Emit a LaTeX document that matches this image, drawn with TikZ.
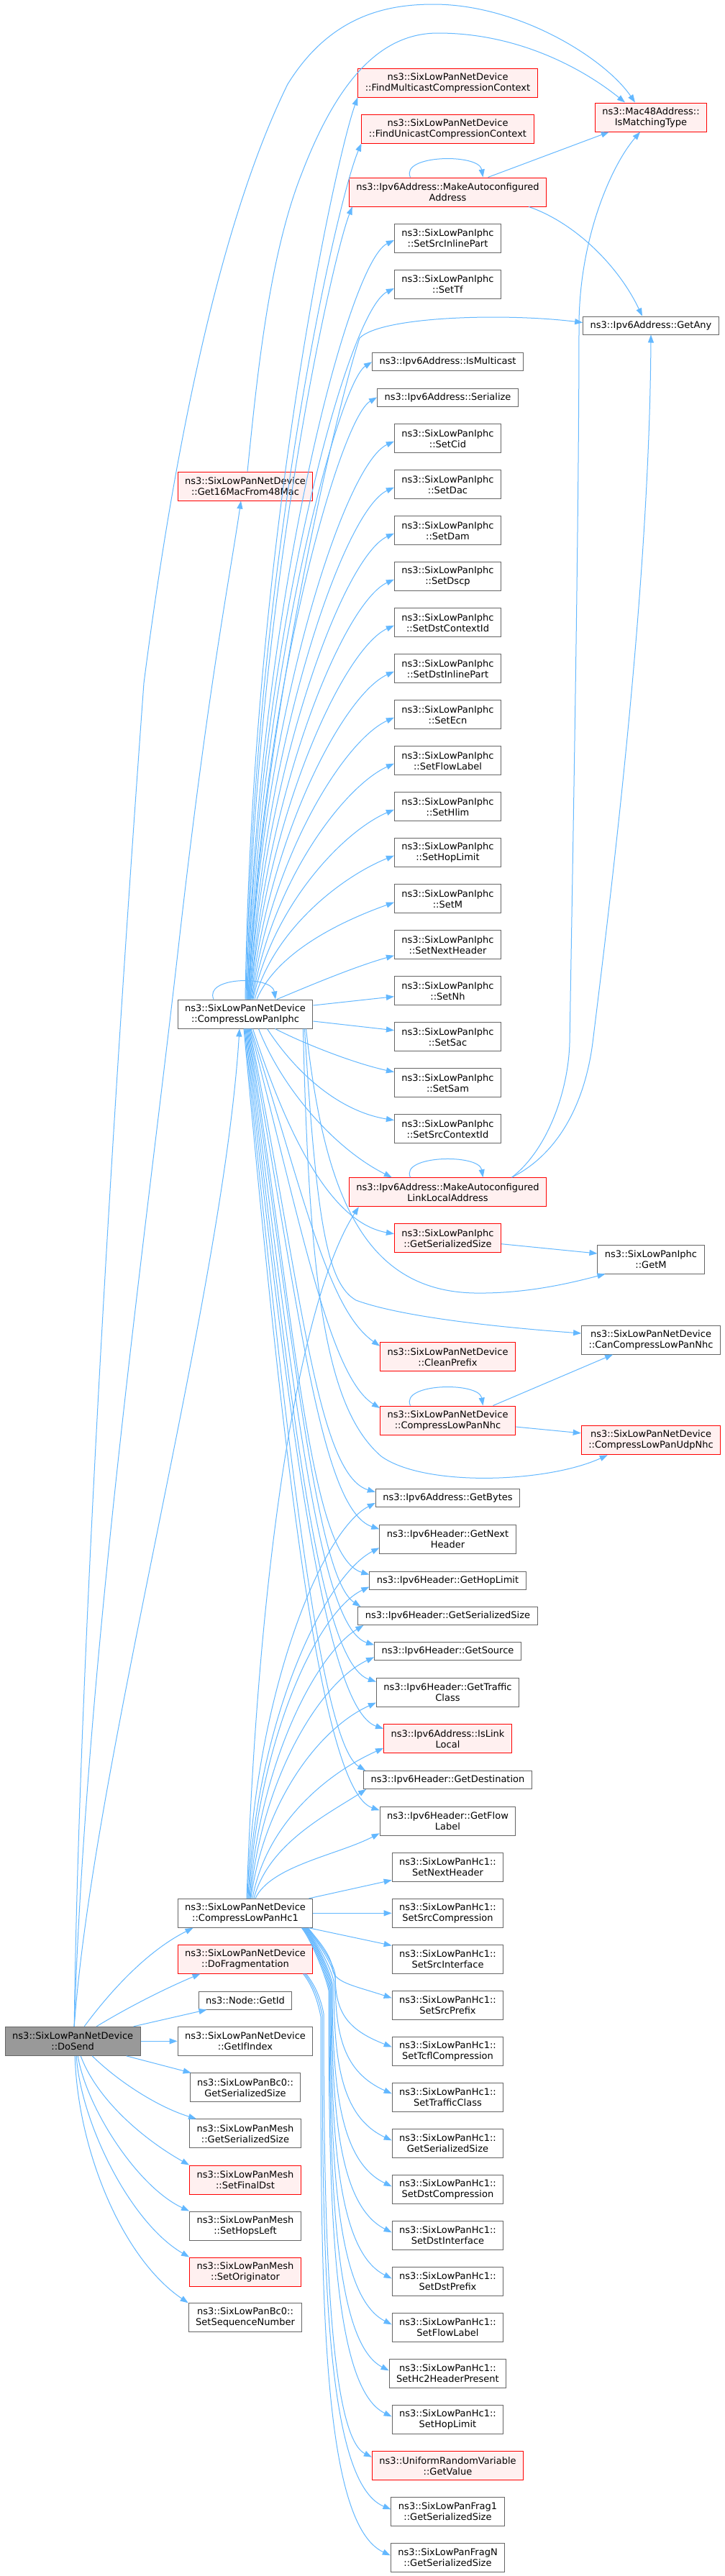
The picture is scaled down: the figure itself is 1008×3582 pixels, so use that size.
\documentclass[tikz,border=0pt]{standalone}
\usepackage{fontspec}
\setmainfont{DejaVu Sans}
\usetikzlibrary{arrows.meta,calc}
\definecolor{edgeblue}{HTML}{63B8FF}
\definecolor{nodegray}{HTML}{666666}
\definecolor{redfill}{HTML}{FFF0F0}
\definecolor{redline}{HTML}{FF0000}
\definecolor{rootfill}{HTML}{999999}
\newcommand\dvf{\fontsize{13}{15}\selectfont}
\newcommand\upfan[6]{\draw[conn] let \p1=(#1),\p2=(#2) in (\p1) .. controls ({#3},{\y1+#4*(\y2-\y1)}) and ({#5},{\y2-#6}) .. (\p2);}
\newcommand\downfan[6]{\draw[conn] let \p1=(#1),\p2=(#2) in (\p1) .. controls ({#3},{\y1+#4*(\y2-\y1)}) and ({#5},{\y2+#6}) .. (\p2);}
\newcommand\bundle[6]{\draw[conn] let \p1=(#1),\p2=(#2) in (\p1) .. controls ({\x1+14pt},{\y1-18pt}) and ({#3-4pt},{-#4pt+20pt}) .. ({#3},{-#4pt}) .. controls ({#3},{0.5*(-#4pt+\y2)}) and ({#5},{\y2+#6}) .. (\p2);}
\tikzset{
  nbox/.style={draw=nodegray, fill=white, line width=1pt, inner xsep=10pt, inner ysep=2pt, minimum height=40pt, align=center, font=\dvf},
  nbox1/.style={nbox, minimum height=25pt},
  trunc/.style={draw=redline, fill=redfill},
  rootnode/.style={fill=rootfill},
  conn/.style={draw=edgeblue, line width=1pt, -{Triangle[length=11pt,width=8pt]}}
}
\begin{document}
\begin{tikzpicture}[x=1pt,y=-1pt]
\fill[white] (0,0) rectangle (1008,3582);
\useasboundingbox (0,0) rectangle (1008,3582);

% ---------- left column ----------
\node[nbox,rootnode] (dosend) at (101.2,2838.3) {ns3::SixLowPanNetDevice\\::DoSend};
\node[nbox,trunc] (g16) at (341,676) {ns3::SixLowPanNetDevice\\::Get16MacFrom48Mac};
\node[nbox] (iphc) at (341,1410) {ns3::SixLowPanNetDevice\\::CompressLowPanIphc};
\node[nbox] (hc1) at (341,2660.3) {ns3::SixLowPanNetDevice\\::CompressLowPanHc1};
\node[nbox,trunc] (dofrag) at (341,2724) {ns3::SixLowPanNetDevice\\::DoFragmentation};
\node[nbox1] (getid) at (341,2781.5) {ns3::Node::GetId};
\node[nbox] (ifidx) at (341,2838.3) {ns3::SixLowPanNetDevice\\::GetIfIndex};
\node[nbox] (bc0gss) at (341,2902.8) {ns3::SixLowPanBc0::\\GetSerializedSize};
\node[nbox] (meshgss) at (341,2966.8) {ns3::SixLowPanMesh\\::GetSerializedSize};
\node[nbox,trunc] (finaldst) at (341,3031) {ns3::SixLowPanMesh\\::SetFinalDst};
\node[nbox] (hopsleft) at (341,3095) {ns3::SixLowPanMesh\\::SetHopsLeft};
\node[nbox,trunc] (orig) at (341,3159) {ns3::SixLowPanMesh\\::SetOriginator};
\node[nbox] (seqnum) at (341,3222.7) {ns3::SixLowPanBc0::\\SetSequenceNumber};

% ---------- middle column ----------
\node[nbox,trunc] (findmc) at (622.5,115) {ns3::SixLowPanNetDevice\\::FindMulticastCompressionContext};
\node[nbox,trunc] (finduc) at (622.5,179) {ns3::SixLowPanNetDevice\\::FindUnicastCompressionContext};
\node[nbox,trunc] (mkaddr) at (622.5,267) {ns3::Ipv6Address::MakeAutoconfigured\\Address};
\node[nbox] (srcinl) at (622.5,331) {ns3::SixLowPanIphc\\::SetSrcInlinePart};
\node[nbox] (settf) at (622.5,395) {ns3::SixLowPanIphc\\::SetTf};
\node[nbox1] (ismc) at (622.5,503.3) {ns3::Ipv6Address::IsMulticast};
\node[nbox1] (serial) at (622.5,552.5) {ns3::Ipv6Address::Serialize};
\node[nbox] (setcid) at (622.5,609.7) {ns3::SixLowPanIphc\\::SetCid};
\node[nbox] (setdac) at (622.5,673.7) {ns3::SixLowPanIphc\\::SetDac};
\node[nbox] (setdam) at (622.5,737.7) {ns3::SixLowPanIphc\\::SetDam};
\node[nbox] (setdscp) at (622.5,801.7) {ns3::SixLowPanIphc\\::SetDscp};
\node[nbox] (setdstctx) at (622.5,865.7) {ns3::SixLowPanIphc\\::SetDstContextId};
\node[nbox] (setdstinl) at (622.5,929.7) {ns3::SixLowPanIphc\\::SetDstInlinePart};
\node[nbox] (setecn) at (622.5,993.7) {ns3::SixLowPanIphc\\::SetEcn};
\node[nbox] (setfl) at (622.5,1057.7) {ns3::SixLowPanIphc\\::SetFlowLabel};
\node[nbox] (sethlim) at (622.5,1121.7) {ns3::SixLowPanIphc\\::SetHlim};
\node[nbox] (sethop) at (622.5,1185.7) {ns3::SixLowPanIphc\\::SetHopLimit};
\node[nbox] (setm) at (622.5,1249.7) {ns3::SixLowPanIphc\\::SetM};
\node[nbox] (setnhdr) at (622.5,1313.7) {ns3::SixLowPanIphc\\::SetNextHeader};
\node[nbox] (setnh) at (622.5,1377.7) {ns3::SixLowPanIphc\\::SetNh};
\node[nbox] (setsac) at (622.5,1441.7) {ns3::SixLowPanIphc\\::SetSac};
\node[nbox] (setsam) at (622.5,1505.7) {ns3::SixLowPanIphc\\::SetSam};
\node[nbox] (setsrcctx) at (622.5,1569.7) {ns3::SixLowPanIphc\\::SetSrcContextId};
\node[nbox,trunc] (linkloc) at (622.5,1657.7) {ns3::Ipv6Address::MakeAutoconfigured\\LinkLocalAddress};
\node[nbox,trunc] (iphcgss) at (622.5,1721.7) {ns3::SixLowPanIphc\\::GetSerializedSize};
\node[nbox,trunc] (clean) at (622.5,1886.7) {ns3::SixLowPanNetDevice\\::CleanPrefix};
\node[nbox,trunc] (nhc) at (622.5,1975) {ns3::SixLowPanNetDevice\\::CompressLowPanNhc};
\node[nbox1] (getbytes) at (622.5,2082.8) {ns3::Ipv6Address::GetBytes};
\node[nbox] (getnext) at (622.5,2140.3) {ns3::Ipv6Header::GetNext\\Header};
\node[nbox1] (gethop) at (622.5,2197.5) {ns3::Ipv6Header::GetHopLimit};
\node[nbox1] (hdrgss) at (622.5,2247) {ns3::Ipv6Header::GetSerializedSize};
\node[nbox1] (getsrc) at (622.5,2296.3) {ns3::Ipv6Header::GetSource};
\node[nbox] (gettc) at (622.5,2353.5) {ns3::Ipv6Header::GetTraffic\\Class};
\node[nbox,trunc] (islinkl) at (622.5,2417.7) {ns3::Ipv6Address::IsLink\\Local};
\node[nbox1] (getdst) at (622.5,2475) {ns3::Ipv6Header::GetDestination};
\node[nbox] (getfl) at (622.5,2532.2) {ns3::Ipv6Header::GetFlow\\Label};
\node[nbox] (hc1snh) at (622.5,2596.3) {ns3::SixLowPanHc1::\\SetNextHeader};
\node[nbox] (hc1ssc) at (622.5,2660.3) {ns3::SixLowPanHc1::\\SetSrcCompression};
\node[nbox] (hc1ssi) at (622.5,2724.3) {ns3::SixLowPanHc1::\\SetSrcInterface};
\node[nbox] (hc1ssp) at (622.5,2788.3) {ns3::SixLowPanHc1::\\SetSrcPrefix};
\node[nbox] (hc1tcfl) at (622.5,2852.3) {ns3::SixLowPanHc1::\\SetTcflCompression};
\node[nbox] (hc1stc) at (622.5,2916.3) {ns3::SixLowPanHc1::\\SetTrafficClass};
\node[nbox] (hc1gss) at (622.5,2980.3) {ns3::SixLowPanHc1::\\GetSerializedSize};
\node[nbox] (hc1sdc) at (622.5,3044.3) {ns3::SixLowPanHc1::\\SetDstCompression};
\node[nbox] (hc1sdi) at (622.5,3108.3) {ns3::SixLowPanHc1::\\SetDstInterface};
\node[nbox] (hc1sdp) at (622.5,3172.3) {ns3::SixLowPanHc1::\\SetDstPrefix};
\node[nbox] (hc1sfl) at (622.5,3236.3) {ns3::SixLowPanHc1::\\SetFlowLabel};
\node[nbox] (hc1hc2) at (622.5,3300.3) {ns3::SixLowPanHc1::\\SetHc2HeaderPresent};
\node[nbox] (hc1shl) at (622.5,3364.3) {ns3::SixLowPanHc1::\\SetHopLimit};
\node[nbox,trunc] (getval) at (622.5,3428.7) {ns3::UniformRandomVariable\\::GetValue};
\node[nbox] (frag1) at (622.5,3492.3) {ns3::SixLowPanFrag1\\::GetSerializedSize};
\node[nbox] (fragn) at (622.5,3556.3) {ns3::SixLowPanFragN\\::GetSerializedSize};

% ---------- right column ----------
\node[nbox,trunc] (mac48) at (905,163) {ns3::Mac48Address::\\IsMatchingType};
\node[nbox1] (getany) at (905,452.5) {ns3::Ipv6Address::GetAny};
\node[nbox] (getm) at (905,1751) {ns3::SixLowPanIphc\\::GetM};
\node[nbox] (cancomp) at (905,1863) {ns3::SixLowPanNetDevice\\::CanCompressLowPanNhc};
\node[nbox,trunc] (udpnhc) at (905,2002.8) {ns3::SixLowPanNetDevice\\::CompressLowPanUdpNhc};

% ---------- edges from DoSend ----------
\draw[conn] ($(dosend.north)+(2,0)$) .. controls (110,2300) and (160,1500) .. (200,950) .. controls (245,600) and (310,300) .. (400,117) .. controls (460,20) and (540,6) .. (603,6) .. controls (720,6) and (840,80) .. ($(mac48.north)+(-22,0)$);
\draw[conn] ($(dosend.north)+(2,0)$) .. controls (120,2300) and (205,1700) .. (250,1300) .. controls (290,950) and (320,800) .. ($(g16.south)+(-6,0)$);
\draw[conn] ($(dosend.north)+(2,0)$) .. controls (130,2450) and (310,1800) .. ($(iphc.south)+(-8,0)$);
\draw[conn] ($(dosend.north)+(16,0)$) .. controls (160,2760) and (210,2710) .. ($(hc1.south west)+(22,0)$);
\draw[conn] ($(dosend.north)+(33,0)$) .. controls (180,2790) and (230,2765) .. ($(dofrag.south west)+(32,0)$);
\draw[conn] ($(dosend.north east)+(-10,0)$) -- ($(getid.south west)+(12,0)$);
\draw[conn] (dosend.east) -- (ifidx.west);
\draw[conn] ($(dosend.south east)+(-20,0)$) -- ($(bc0gss.north west)+(2,0)$);
\draw[conn] ($(dosend.south)+(27,0)$) .. controls (165,2895) and (220,2930) .. ($(meshgss.north west)+(10,0)$);
\draw[conn] ($(dosend.south)+(11,0)$) .. controls (135,2920) and (200,2975) .. (finaldst.north west);
\draw[conn] ($(dosend.south)+(7,0)$) .. controls (120,2930) and (190,3040) .. (hopsleft.north west);
\draw[conn] ($(dosend.south)+(5,0)$) .. controls (112,2950) and (180,3090) .. (orig.north west);
\draw[conn] ($(dosend.south)+(3,0)$) .. controls (108,2990) and (170,3140) .. (seqnum.north west);

% ---------- Get16MacFrom48Mac ----------
\draw[conn] ($(g16.north)+(3,0)$) .. controls (356,540) and (372,360) .. (420,240) .. controls (470,110) and (530,46) .. (609,46) .. controls (720,46) and (810,95) .. ($(mac48.north)+(-36,0)$);

% ---------- self loops ----------
\draw[conn] ($(iphc.north)+(-44,0)$) .. controls (283,1358) and (378,1356) .. ($(iphc.north)+(42,0)$);
\draw[conn] ($(mkaddr.north)+(-52,0)$) .. controls (556,215) and (666,213) .. ($(mkaddr.north)+(49,0)$);
\draw[conn] ($(linkloc.north)+(-52,0)$) .. controls (556,1606) and (666,1604) .. ($(linkloc.north)+(49,0)$);
\draw[conn] ($(nhc.north)+(-52,0)$) .. controls (556,1923) and (666,1921) .. ($(nhc.north)+(49,0)$);

% ---------- callee to callee ----------
\draw[conn] ($(mkaddr.north)+(56,0)$) -- ($(mac48.south west)+(20,0)$);
\draw[conn] ($(mkaddr.south east)+(-25,0)$) .. controls (800,310) and (860,370) .. ($(getany.north)+(-12,0)$);
\draw[conn] ($(linkloc.north)+(89,0)$) .. controls (760,1600) and (790,1520) .. (792,1450) .. controls (798,1100) and (805,700) .. (805,450) .. controls (806,330) and (850,230) .. ($(mac48.south)+(-15,0)$);
\draw[conn] ($(linkloc.north)+(89,0)$) .. controls (785,1600) and (815,1520) .. (824,1450) .. controls (855,1200) and (903,800) .. (getany.south);
\draw[conn] ($(iphcgss.east)+(0,8)$) -- ($(getm.west)+(0,-8)$);
\draw[conn] ($(nhc.north)+(63,0)$) -- ($(cancomp.south west)+(44,0)$);
\draw[conn] ($(nhc.east)+(0,9)$) -- ($(udpnhc.west)+(0,-10)$);

% ---------- CompressLowPanIphc fan ----------
\upfan{iphc.north}{findmc.south west}{350pt}{0.5}{465pt}{90pt}
\upfan{$(iphc.north)+(1,0)$}{finduc.south west}{352pt}{0.5}{468pt}{80pt}
\upfan{$(iphc.north)+(2,0)$}{$(mkaddr.south west)+(5,0)$}{354pt}{0.5}{462pt}{70pt}
\upfan{$(iphc.north)+(3,0)$}{$(srcinl.west)+(0,3)$}{356pt}{0.5}{482pt}{32pt}
\upfan{$(iphc.north)+(3,0)$}{$(settf.west)+(0,6)$}{358pt}{0.5}{482pt}{32pt}
\draw[conn] ($(iphc.north)+(4,0)$) .. controls (365,1000) and (470,560) .. (500,470) .. controls (530,440) and (700,435) .. ($(getany.west)+(0,-4)$);
\upfan{$(iphc.north)+(4,0)$}{ismc.west}{360pt}{0.5}{470pt}{30pt}
\upfan{$(iphc.north)+(5,0)$}{serial.west}{362pt}{0.5}{472pt}{30pt}
\upfan{$(iphc.north)+(5,0)$}{$(setcid.west)+(0,4)$}{364pt}{0.5}{478pt}{32pt}
\upfan{$(iphc.north)+(6,0)$}{$(setdac.west)+(0,4)$}{366pt}{0.5}{478pt}{32pt}
\upfan{$(iphc.north)+(6,0)$}{$(setdam.west)+(0,4)$}{368pt}{0.5}{478pt}{32pt}
\upfan{$(iphc.north)+(7,0)$}{$(setdscp.west)+(0,4)$}{370pt}{0.5}{478pt}{32pt}
\upfan{$(iphc.north)+(7,0)$}{$(setdstctx.west)+(0,4)$}{372pt}{0.5}{478pt}{32pt}
\upfan{$(iphc.north)+(8,0)$}{$(setdstinl.west)+(0,4)$}{374pt}{0.5}{478pt}{32pt}
\upfan{$(iphc.north)+(9,0)$}{$(setecn.west)+(0,4)$}{376pt}{0.5}{478pt}{32pt}
\upfan{$(iphc.north)+(10,0)$}{$(setfl.west)+(0,4)$}{378pt}{0.5}{478pt}{32pt}
\upfan{$(iphc.north)+(11,0)$}{$(sethlim.west)+(0,4)$}{380pt}{0.5}{478pt}{30pt}
\upfan{$(iphc.north)+(13,0)$}{$(sethop.west)+(0,4)$}{382pt}{0.5}{478pt}{28pt}
\upfan{$(iphc.north)+(16,0)$}{$(setm.west)+(0,5)$}{386pt}{0.5}{478pt}{25pt}
\draw[conn] ($(iphc.north)+(44,0)$) .. controls (420,1375) and (490,1345) .. ($(setnhdr.west)+(0,15)$);
\draw[conn] ($(iphc.east)+(0,-12)$) -- ($(setnh.west)+(0,8)$);
\draw[conn] ($(iphc.east)+(0,10)$) -- ($(setsac.west)+(0,-9)$);
\draw[conn] ($(iphc.south east)+(-53,0)$) .. controls (420,1450) and (490,1478) .. ($(setsam.west)+(0,-15)$);
\draw[conn] ($(iphc.south east)+(-64,0)$) .. controls (410,1490) and (470,1545) .. ($(setsrcctx.west)+(0,-12)$);
\draw[conn] ($(iphc.south east)+(-76,0)$) .. controls (395,1520) and (470,1600) .. ($(linkloc.north west)+(60,0)$);
\draw[conn] ($(iphc.south east)+(-84,0)$) .. controls (400,1580) and (460,1700) .. ($(iphcgss.west)+(0,-6)$);
\draw[conn] ($(iphc.south east)+(-10,0)$) .. controls (450,1650) and (500,1795) .. (660,1798) .. controls (730,1799) and (790,1785) .. ($(getm.south west)+(11,0)$);
\draw[conn] ($(iphc.south east)+(-12,0)$) .. controls (440,1700) and (455,1785) .. (495,1808) .. controls (560,1832) and (700,1846) .. ($(cancomp.west)+(0,-9)$);
\downfan{$(iphc.south)+(8,0)$}{$(clean.west)+(0,-15)$}{425pt}{0.55}{457pt}{50pt}
\downfan{$(iphc.south)+(7,0)$}{$(nhc.west)+(0,-17)$}{422pt}{0.55}{460pt}{43pt}
\draw[conn] ($(iphc.south east)+(-14,0)$) .. controls (430,1800) and (455,1960) .. (530,2025) .. controls (590,2068) and (760,2062) .. ($(udpnhc.south west)+(37,0)$);
\downfan{$(iphc.south)+(6,0)$}{$(getbytes.west)+(0,-8)$}{418pt}{0.55}{440pt}{25pt}
\downfan{$(iphc.south)+(5,0)$}{$(getnext.west)+(0,-14)$}{415pt}{0.55}{445pt}{28pt}
\downfan{$(iphc.south)+(4,0)$}{$(gethop.west)+(0,-8)$}{412pt}{0.55}{430pt}{25pt}
\downfan{$(iphc.south)+(3,0)$}{$(hdrgss.north west)+(4,0)$}{409pt}{0.55}{440pt}{40pt}
\downfan{$(iphc.south)+(2,0)$}{$(getsrc.west)+(0,-9)$}{406pt}{0.55}{440pt}{25pt}
\downfan{$(iphc.south)+(1,0)$}{$(gettc.west)+(0,-15)$}{403pt}{0.55}{440pt}{28pt}
\downfan{$(iphc.south)+(0,0)$}{$(islinkl.west)+(0,-14)$}{400pt}{0.55}{450pt}{28pt}
\downfan{$(iphc.south)+(-1,0)$}{$(getdst.north west)+(3,0)$}{397pt}{0.55}{445pt}{38pt}
\downfan{$(iphc.south)+(-2,0)$}{$(getfl.west)+(0,-15)$}{394pt}{0.55}{445pt}{28pt}

% ---------- CompressLowPanHc1 fan ----------
\draw[conn] ($(hc1.north)+(2,0)$) .. controls (360,2150) and (420,1800) .. ($(linkloc.south west)+(14,0)$);
\upfan{$(hc1.north)+(3,0)$}{$(getbytes.west)+(0,7)$}{352pt}{0.5}{445pt}{40pt}
\upfan{$(hc1.north)+(4,0)$}{$(getnext.west)+(0,12)$}{355pt}{0.5}{450pt}{40pt}
\upfan{$(hc1.north)+(5,0)$}{$(gethop.west)+(0,9)$}{358pt}{0.5}{440pt}{35pt}
\upfan{$(hc1.north)+(6,0)$}{$(hdrgss.south west)+(8,0)$}{361pt}{0.5}{440pt}{40pt}
\upfan{$(hc1.north)+(7,0)$}{$(getsrc.west)+(0,8)$}{364pt}{0.5}{445pt}{35pt}
\upfan{$(hc1.north)+(8,0)$}{$(gettc.west)+(0,14)$}{367pt}{0.5}{445pt}{35pt}
\upfan{$(hc1.north)+(10,0)$}{$(islinkl.west)+(0,13)$}{370pt}{0.5}{455pt}{35pt}
\upfan{$(hc1.north)+(12,0)$}{$(getdst.south west)+(4,0)$}{373pt}{0.5}{455pt}{35pt}
\upfan{$(hc1.north)+(14,0)$}{$(getfl.west)+(0,17)$}{376pt}{0.5}{470pt}{30pt}
\draw[conn] ($(hc1.north east)+(-6,0)$) -- ($(hc1snh.west)+(0,18)$);
\draw[conn] (hc1.east) -- (hc1ssc.west);
\draw[conn] ($(hc1.south east)+(-6,0)$) -- ($(hc1ssi.west)+(0,-19)$);
\bundle{$(hc1.south east)+(-7,0)$}{$(hc1ssp.west)+(0,-10)$}{462pt}{2735}{490pt}{18pt}
\bundle{$(hc1.south east)+(-8,0)$}{$(hc1tcfl.west)+(0,-6)$}{466pt}{2745}{480pt}{25pt}
\bundle{$(hc1.south east)+(-9,0)$}{$(hc1stc.west)+(0,-5)$}{466pt}{2750}{478pt}{30pt}
\bundle{$(hc1.south east)+(-10,0)$}{$(hc1gss.west)+(0,-4)$}{464pt}{2755}{474pt}{33pt}
\bundle{$(hc1.south east)+(-11,0)$}{$(hc1sdc.west)+(0,-4)$}{462pt}{2758}{472pt}{35pt}
\bundle{$(hc1.south east)+(-12,0)$}{$(hc1sdi.west)+(0,-4)$}{461pt}{2760}{470pt}{38pt}
\bundle{$(hc1.south east)+(-13,0)$}{$(hc1sdp.west)+(0,-4)$}{460pt}{2762}{468pt}{38pt}
\bundle{$(hc1.south east)+(-14,0)$}{$(hc1sfl.west)+(0,-4)$}{459pt}{2764}{466pt}{40pt}
\bundle{$(hc1.south east)+(-15,0)$}{$(hc1hc2.west)+(0,-4)$}{458pt}{2766}{464pt}{40pt}
\bundle{$(hc1.south east)+(-16,0)$}{$(hc1shl.west)+(0,-4)$}{457pt}{2768}{462pt}{40pt}

% ---------- DoFragmentation fan ----------
\bundle{$(dofrag.south east)+(-10,0)$}{$(getval.west)+(0,-12)$}{450pt}{2800}{458pt}{30pt}
\bundle{$(dofrag.south east)+(-12,0)$}{$(frag1.west)+(0,-3)$}{448pt}{2802}{452pt}{38pt}
\bundle{$(dofrag.south east)+(-14,0)$}{$(fragn.west)+(0,-3)$}{446pt}{2804}{446pt}{45pt}
\end{tikzpicture}
\end{document}
